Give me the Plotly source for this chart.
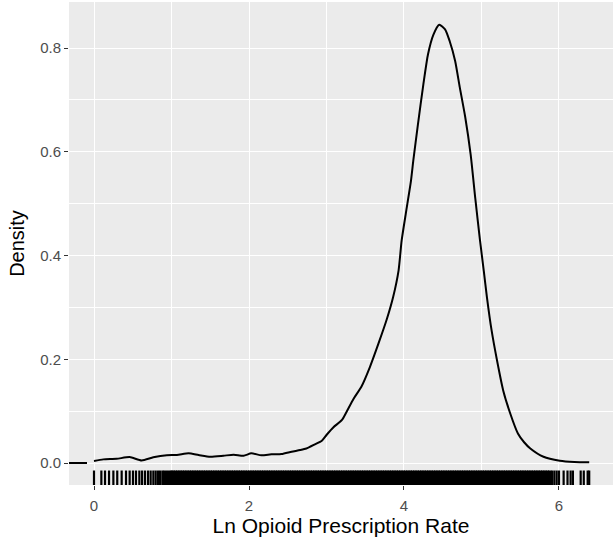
import plotly.graph_objects as go

# Density curve of Ln opioid prescription rate
dens_x = [0.00, 0.12, 0.29, 0.46, 0.615, 0.765, 0.94, 1.07, 1.22, 1.35, 1.50, 1.67, 1.80, 1.93,
          2.03, 2.16, 2.29, 2.42, 2.55, 2.66, 2.74, 2.85, 2.94, 3.00, 3.09, 3.20, 3.26, 3.35,
          3.45, 3.56, 3.67, 3.78, 3.86, 3.93, 3.97, 4.03, 4.09, 4.12, 4.18, 4.25, 4.31, 4.38,
          4.455, 4.53, 4.59, 4.66, 4.72, 4.79, 4.86, 4.92, 4.98, 5.03, 5.07, 5.13, 5.20, 5.28,
          5.37, 5.47, 5.55, 5.63, 5.80, 6.01, 6.20, 6.39]
dens_y = [0.004, 0.007, 0.008, 0.0115, 0.005, 0.011, 0.015, 0.0154, 0.0186, 0.0154, 0.012, 0.014, 0.016, 0.014,
          0.0186, 0.0148, 0.0167, 0.0173, 0.0218, 0.025, 0.028, 0.036, 0.043, 0.054, 0.069, 0.083, 0.099, 0.124,
          0.147, 0.185, 0.230, 0.278, 0.320, 0.371, 0.429, 0.487, 0.544, 0.583, 0.653, 0.730, 0.788, 0.826,
          0.845, 0.836, 0.813, 0.775, 0.724, 0.667, 0.595, 0.510, 0.430, 0.370, 0.320, 0.256, 0.198, 0.140,
          0.096, 0.057, 0.040, 0.028, 0.012, 0.0045, 0.002, 0.0013]

# short segment at zero on the left edge
seg_x = [-0.40, -0.09]
seg_y = [0.0, 0.0]

# Rug: observations (sparse tails read individually, dense middle band)
rug_sparse = [0.00, 0.095, 0.142, 0.194, 0.25, 0.30, 0.357, 0.413, 0.46, 0.503, 0.542, 0.585, 0.62,
              0.658, 0.697, 0.731, 0.766, 0.796, 0.826, 0.852, 0.882, 0.903, 0.929, 0.955, 0.981, 1.002,
              5.91, 5.94, 5.97, 6.00, 6.06, 6.11, 6.15, 6.18, 6.28, 6.32, 6.37, 6.39]
rug_dense = [1.02, 1.05, 1.08, 1.11, 1.14, 1.17, 1.20, 1.23, 1.26, 1.29, 1.32, 1.35, 1.38, 1.41, 1.44,
             1.47, 1.50, 1.53, 1.56, 1.59, 1.62, 1.65, 1.68, 1.71, 1.74, 1.77, 1.80, 1.83, 1.86, 1.89,
             1.92, 1.95, 1.98, 2.01, 2.04, 2.07, 2.10, 2.13, 2.16, 2.19, 2.22, 2.25, 2.28, 2.31, 2.34,
             2.37, 2.40, 2.43, 2.46, 2.49, 2.52, 2.55, 2.58, 2.61, 2.64, 2.67, 2.70, 2.73, 2.76, 2.79,
             2.82, 2.85, 2.88, 2.91, 2.94, 2.97, 3.00, 3.03, 3.06, 3.09, 3.12, 3.15, 3.18, 3.21, 3.24,
             3.27, 3.30, 3.33, 3.36, 3.39, 3.42, 3.45, 3.48, 3.51, 3.54, 3.57, 3.60, 3.63, 3.66, 3.69,
             3.72, 3.75, 3.78, 3.81, 3.84, 3.87, 3.90, 3.93, 3.96, 3.99, 4.02, 4.05, 4.08, 4.11, 4.14,
             4.17, 4.20, 4.23, 4.26, 4.29, 4.32, 4.35, 4.38, 4.41, 4.44, 4.47, 4.50, 4.53, 4.56, 4.59,
             4.62, 4.65, 4.68, 4.71, 4.74, 4.77, 4.80, 4.83, 4.86, 4.89, 4.92, 4.95, 4.98, 5.01, 5.04,
             5.07, 5.10, 5.13, 5.16, 5.19, 5.22, 5.25, 5.28, 5.31, 5.34, 5.37, 5.40, 5.43, 5.46, 5.49,
             5.52, 5.55, 5.58, 5.61, 5.64, 5.67, 5.70, 5.73, 5.76, 5.79, 5.82, 5.85, 5.88]

x_ticks = [0, 2, 4, 6]
y_ticks = [0.0, 0.2, 0.4, 0.6, 0.8]
y_tick_text = ["0.0", "0.2", "0.4", "0.6", "0.8"]

X_TITLE = "Ln Opioid Prescription Rate"
Y_TITLE = "Density"

RUG_LEN = 0.03  # fraction of panel height (ggplot geom_rug default)


def rug_segments(vals):
    xs, ys = [], []
    for v in vals:
        xs += [v, v, None]
        ys += [0, RUG_LEN, None]
    return xs, ys


fig = go.Figure()

rx, ry = rug_segments(rug_dense)
fig.add_trace(go.Scatter(x=rx, y=ry, mode="lines", yaxis="y2",
                         line=dict(color="black", width=3.6, simplify=False),
                         hoverinfo="skip", showlegend=False))
rx, ry = rug_segments(rug_sparse)
fig.add_trace(go.Scatter(x=rx, y=ry, mode="lines", yaxis="y2",
                         line=dict(color="black", width=2.2, simplify=False),
                         hoverinfo="skip", showlegend=False))

fig.add_trace(go.Scatter(x=seg_x, y=seg_y, mode="lines",
                         line=dict(color="black", width=2), showlegend=False))
fig.add_trace(go.Scatter(x=dens_x, y=dens_y, mode="lines",
                         line=dict(color="black", width=2, shape="spline", smoothing=0.6),
                         showlegend=False))

font_family = "Liberation Sans, Arial, sans-serif"

fig.update_layout(
    width=613, height=540,
    margin=dict(l=69, r=0, t=2, b=55),
    paper_bgcolor="white",
    plot_bgcolor="#EBEBEB",
    font=dict(family=font_family, color="black"),
    xaxis=dict(
        range=[-0.3226, 6.697],
        tickvals=x_ticks, ticktext=[str(v) for v in x_ticks],
        ticks="outside", ticklen=4, tickwidth=1.1, tickcolor="#333333",
        ticklabelstandoff=3,
        tickfont=dict(size=15, color="#4D4D4D"),
        showgrid=True, gridcolor="white", gridwidth=1.3,
        minor=dict(dtick=1, tick0=0, showgrid=True, gridcolor="white", gridwidth=0.6, ticks=""),
        zeroline=False, showline=False,
        title=dict(text=X_TITLE, font=dict(size=21, color="black"), standoff=3),
    ),
    yaxis=dict(
        range=[-0.0424, 0.8887],
        tickvals=y_ticks, ticktext=y_tick_text,
        ticks="outside", ticklen=4, tickwidth=1.1, tickcolor="#333333",
        tickfont=dict(size=15, color="#4D4D4D"),
        showgrid=True, gridcolor="white", gridwidth=1.3,
        minor=dict(dtick=0.1, tick0=0, showgrid=True, gridcolor="white", gridwidth=0.6, ticks=""),
        zeroline=False, showline=False,
        title=dict(text=Y_TITLE, font=dict(size=20, color="black"), standoff=10),
    ),
    yaxis2=dict(range=[0, 1], overlaying="y", visible=False, fixedrange=True),
)

fig.write_html("out.html")
